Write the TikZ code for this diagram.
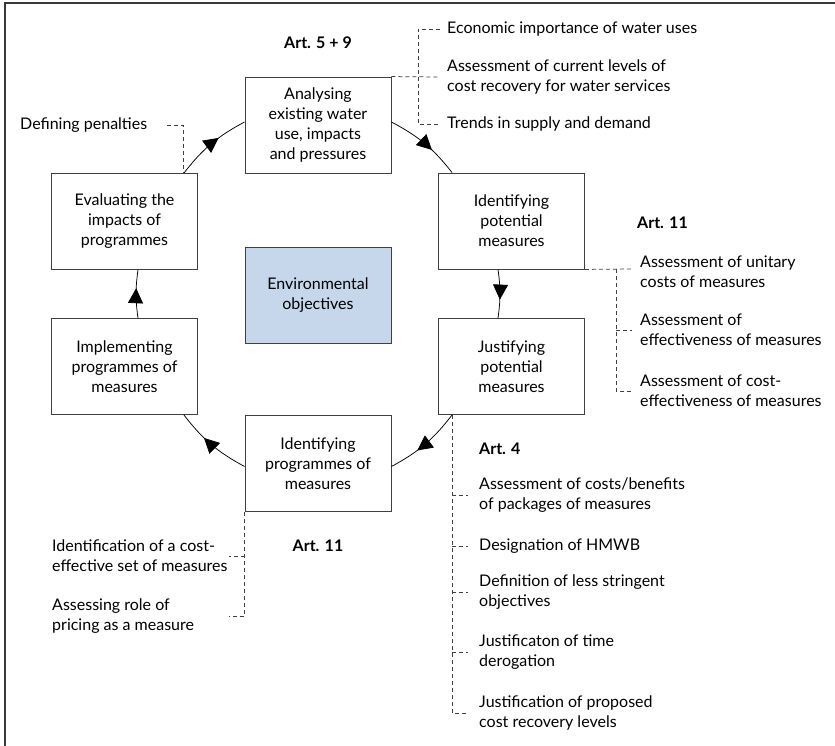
\documentclass[tikz,border=0pt]{standalone}
\usepackage{fontspec}
\setmainfont{Lato}
\usetikzlibrary{arrows.meta,decorations.markings}

\definecolor{framegray}{HTML}{3A3A3A}
\definecolor{boxgray}{HTML}{404040}
\definecolor{objblue}{HTML}{C6D7EC}

\tikzset{
  stepbox/.style={draw=boxgray, line width=0.9pt, minimum width=146pt, minimum height=96pt,
    align=center, inner sep=2pt, font=\fontsize{16}{20}\selectfont},
  note/.style={anchor=west, align=left, inner sep=0pt, font=\fontsize{16}{20}\selectfont},
  art/.style={inner sep=0pt, font=\bfseries\fontsize{16}{20}\selectfont},
  link/.style={draw=boxgray, line width=0.75pt, dash pattern=on 4pt off 3pt},
  cycle/.style={line width=0.75pt, postaction={decorate},
    decoration={markings, mark=at position 0.62 with {\arrow{Triangle[length=15pt,width=15pt]}}}}
}

\begin{document}
\begin{tikzpicture}[x=1pt, y=-1pt]
  \useasboundingbox (0,0) rectangle (835,746);

  % outer frame (left and top edges)
  \draw[framegray, line width=2pt] (4.5,746) -- (4.5,3.5) -- (835,3.5);

  % process steps
  \node[stepbox] (ana)    at (318,125)   {Analysing\\existing water\\use, impacts\\and pressures};
  \node[stepbox] (idpot)  at (511.5,221) {Identifying\\potential\\measures};
  \node[stepbox] (just)   at (511.5,366.5) {Justifying\\potential\\measures};
  \node[stepbox] (idprog) at (318,463.5) {Identifying\\programmes of\\measures};
  \node[stepbox] (impl)   at (124.5,366.5) {Implementing\\programmes of\\measures};
  \node[stepbox] (eval)   at (124.5,221.5) {Evaluating the\\impacts of\\programmes};
  \node[stepbox, fill=objblue] (obj) at (318,295) {Environmental\\objectives};

  % cycle connectors
  \draw[cycle] ([xshift=-14pt]eval.north east) to[bend left=12] ([yshift=3pt]ana.west);
  \draw[cycle] ([yshift=3pt]ana.east) to[bend left=12] ([xshift=14pt]idpot.north west);
  \draw[cycle] ([xshift=-13.5pt]idpot.south) to[bend left=8] ([xshift=-13.5pt]just.north);
  \draw[cycle] ([xshift=14pt]just.south west) to[bend left=12] ([yshift=-3pt]idprog.east);
  \draw[cycle] ([yshift=-3pt]idprog.west) to[bend left=12] ([xshift=-14pt]impl.north east |- impl.south);
  \draw[cycle] ([xshift=13.5pt]impl.north) to[bend left=8] ([xshift=13.5pt]eval.south);

  % article labels
  \node[art] (art59) at (318,43) {Art. 5 + 9};
  \node[art, anchor=west] (art11r) at (637,223) {Art. 11};
  \node[art, anchor=west] (art4) at (479,449) {Art. 4};
  \node[art] (art11l) at (318,546) {Art. 11};

  % notes for the analysis step
  \node[note] (econ)   at (447,29)  {Economic importance of water uses};
  \node[note] (recov)  at (447,77)  {Assessment of current levels of\\cost recovery for water services};
  \node[note] (trends) at (447,124) {Trends in supply and demand};
  \coordinate (bA) at (418,77);
  \draw[link] (ana.north east) -- ([xshift=-8pt]recov.west);
  \draw[link] ([xshift=-7pt]econ.west) -- (econ.west -| bA) -- (trends.west -| bA) -- ([xshift=-7pt]trends.west);

  % note for the evaluation step
  \node[note] (pen) at (20,125) {Defining penalties};
  \coordinate (bP) at (183,125);
  \draw[link] (167,125) -- (bP) -- (bP |- eval.north);

  % notes for identifying potential measures
  \node[note] (unit) at (640,272) {Assessment of unitary\\costs of measures};
  \node[note] (eff)  at (640,330) {Assessment of\\effectiveness of measures};
  \node[note] (ceff) at (640,391) {Assessment of cost-\\effectiveness of measures};
  \coordinate (bU) at (616,269);
  \draw[link] (idpot.south east) -- (632,269);
  \draw[link] (bU) -- (bU |- ceff.west) -- ([xshift=-8pt]ceff.west);
  \draw[link] (bU |- eff.west) -- ([xshift=-8pt]eff.west);

  % notes for justifying measures
  \node[note] (cb)   at (479,495) {Assessment of costs/benefits\\of packages of measures};
  \node[note] (hmwb) at (479,546) {Designation of HMWB};
  \node[note] (less) at (479,592) {Definition of less stringent\\objectives};
  \node[note] (time) at (479,652) {Justificaton of time\\derogation};
  \node[note] (cost) at (479,713) {Justification of proposed\\cost recovery levels};
  \coordinate (bJ) at ([xshift=14pt]just.south west);
  \draw[link] (bJ) -- (bJ |- cost.west) -- ([xshift=-11pt]cost.west);
  \foreach \n in {cb,hmwb,less,time}
    \draw[link] (bJ |- \n.west) -- ([xshift=-11pt]\n.west);

  % notes for identifying programmes
  \node[note] (set)     at (52,556) {Identification of a cost-\\effective set of measures};
  \node[note] (pricing) at (52,616) {Assessing role of\\pricing as a measure};
  \draw[link] (idprog.south west) -- (idprog.south west |- pricing.west) -- ++(-16,0);
  \draw[link] (idprog.south west |- set.west) -- ++(-16,0);
\end{tikzpicture}
\end{document}
